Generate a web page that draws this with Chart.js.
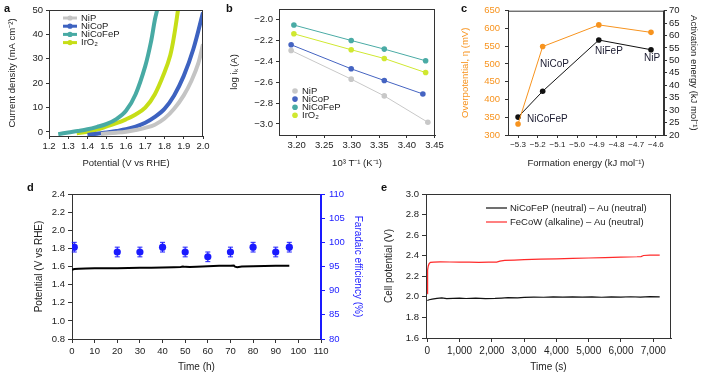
<!DOCTYPE html>
<html>
<head>
<meta charset="utf-8">
<script src="https://cdn.jsdelivr.net/npm/chart.js@4.4.1/dist/chart.umd.min.js"></script>
<style>
  body { margin: 0; background: #fff; width: 704px; height: 377px; position: relative; overflow: hidden; }
  canvas { position: absolute; }
  .tag { position: absolute; font: bold 11px 'Liberation Sans', Arial, sans-serif; color: #111; }
</style>
</head>
<body>
<canvas id="ca" width="228" height="175" style="left:0;top:0"></canvas>
<canvas id="cb" width="232" height="175" style="left:228px;top:0"></canvas>
<canvas id="cc" width="244" height="175" style="left:460px;top:0"></canvas>
<canvas id="cd" width="368" height="199" style="left:0;top:178px"></canvas>
<canvas id="ce" width="342" height="199" style="left:362px;top:178px"></canvas>
<div class="tag" style="left:4px;top:2px">a</div>
<div class="tag" style="left:226px;top:2px">b</div>
<div class="tag" style="left:461px;top:2px">c</div>
<div class="tag" style="left:27px;top:181px">d</div>
<div class="tag" style="left:381px;top:181px">e</div>
<script>
// ---- a: polarisation curves, potential (V vs RHE) / current density (mA cm-2)
const nipV = [1.47, 1.55, 1.60, 1.65, 1.70, 1.75, 1.80, 1.85, 1.90, 1.94, 1.975, 2.0];
const nipJ = [-0.8, -0.3, 0.1, 0.8, 1.7, 3.0, 5.5, 9.5, 15, 21, 28, 36];
const nicopV = [1.40, 1.45, 1.50, 1.55, 1.60, 1.65, 1.70, 1.75, 1.80, 1.85, 1.90, 1.95, 2.0];
const nicopJ = [-1.2, -0.7, -0.2, 0.4, 1.1, 2.2, 3.8, 6.2, 9.5, 15, 23, 34, 49];
const nicofepV = [1.248, 1.30, 1.35, 1.40, 1.45, 1.50, 1.55, 1.60, 1.65, 1.70, 1.73, 1.75, 1.765];
const nicofepJ = [-0.9, -0.2, 0.4, 1.1, 2.1, 3.3, 5.3, 8.7, 15.5, 27, 37, 46, 51];
const iro2V = [1.344, 1.40, 1.45, 1.50, 1.55, 1.60, 1.65, 1.70, 1.75, 1.80, 1.83, 1.85, 1.872];
const iro2J = [-0.5, 0.1, 1.0, 2.3, 3.6, 5.2, 7.2, 10, 15.5, 24.5, 31.5, 39.5, 51];
const aTicksX = [1.2, 1.3, 1.4, 1.5, 1.6, 1.7, 1.8, 1.9, 2.0];
const aTicksY = [0, 10, 20, 30, 40, 50];

// ---- b: Arrhenius plot, 10^3/T (K-1) / log ik (A)
const bNipT = [3.190, 3.299, 3.359, 3.438];
const bNipLog = [-2.295, -2.570, -2.731, -2.984];
const bNicopT = [3.190, 3.299, 3.359, 3.429];
const bNicopLog = [-2.240, -2.471, -2.583, -2.712];
const bNicofepT = [3.195, 3.299, 3.359, 3.434];
const bNicofepLog = [-2.051, -2.199, -2.282, -2.394];
const bIro2T = [3.195, 3.299, 3.359, 3.434];
const bIro2Log = [-2.135, -2.288, -2.372, -2.507];
const bTicksX = [3.20, 3.25, 3.30, 3.35, 3.40, 3.45];
const bTicksY = [-3.0, -2.8, -2.6, -2.4, -2.2, -2.0];

// ---- c: formation energy vs overpotential / activation energy
const cNames = ['NiCoFeP', 'NiCoP', 'NiFeP', 'NiP'];
const cFormation = [-5.3, -5.175, -4.89, -4.625];
const cOverpotential = [331, 549, 610, 589];
const cActivation = [27.2, 37.6, 58.2, 54.3];
const cTicksX = [-5.3, -5.2, -5.1, -5.0, -4.9, -4.8, -4.7, -4.6];
const cTicksY = [300, 350, 400, 450, 500, 550, 600, 650];
const cTicksY2 = [20, 25, 30, 35, 40, 45, 50, 55, 60, 65, 70];

// ---- d: stability, time (h) / potential (V vs RHE) and Faradaic efficiency (%)
const dTime = [0, 1, 3, 6, 10, 15, 20, 25, 30, 35, 40, 45, 48, 49, 50, 52, 55, 60, 65, 70, 71.5, 72, 73, 75, 80, 85, 90, 96];
const dPotential = [1.562, 1.572, 1.576, 1.578, 1.580, 1.581, 1.582, 1.583, 1.585, 1.587, 1.589, 1.592, 1.595, 1.600, 1.596, 1.594, 1.598, 1.604, 1.607, 1.609, 1.611, 1.598, 1.593, 1.600, 1.604, 1.606, 1.607, 1.607];
const dFeTime = [1, 20, 30, 40, 50, 60, 70, 80, 90, 96];
const dFe = [99, 98, 98, 99, 98, 97, 98, 99, 98, 99];
const dFeErr = [1, 1, 1, 1, 1, 1, 1, 1, 1, 1];
const dTicksX = [0, 10, 20, 30, 40, 50, 60, 70, 80, 90, 100, 110];
const dTicksY = [0.8, 1.0, 1.2, 1.4, 1.6, 1.8, 2.0, 2.2, 2.4];
const dTicksY2 = [80, 85, 90, 95, 100, 105, 110];

// ---- e: two-electrode cells, time (s) / cell potential (V)
const eNeutralT = [0, 60, 150, 300, 450, 600, 800, 1000, 1200, 1500, 1800, 2100, 2300, 2500, 2800, 3000, 3300, 3600, 3900, 4200, 4500, 4800, 5100, 5400, 5700, 6000, 6300, 6600, 6900, 7200];
const eNeutralV = [1.965, 1.972, 1.978, 1.986, 1.990, 1.982, 1.986, 1.988, 1.984, 1.987, 1.983, 1.985, 1.988, 1.992, 1.990, 1.995, 1.998, 1.996, 1.999, 1.997, 2.000, 1.997, 1.999, 1.996, 2.000, 1.998, 2.001, 1.998, 2.002, 2.000];
const eAlkT = [0, 5, 15, 30, 60, 100, 200, 400, 700, 1000, 1300, 1600, 1900, 2150, 2250, 2400, 2700, 3000, 3500, 4000, 4500, 5000, 5500, 6000, 6500, 6620, 6700, 6900, 7200];
const eAlkV = [2.03, 2.15, 2.26, 2.30, 2.325, 2.335, 2.338, 2.340, 2.339, 2.338, 2.337, 2.336, 2.337, 2.338, 2.347, 2.355, 2.358, 2.362, 2.366, 2.370, 2.374, 2.378, 2.382, 2.386, 2.390, 2.392, 2.402, 2.405, 2.405];
const eTicksX = [0, 1000, 2000, 3000, 4000, 5000, 6000, 7000];
const eTicksY = [1.6, 1.8, 2.0, 2.2, 2.4, 2.6, 2.8, 3.0];

const SANS = "'Liberation Sans', Arial, sans-serif";
const NARROW = "'Liberation Sans Narrow', 'Arial Narrow', 'Liberation Sans', Arial, sans-serif";
const ORANGE = '#f7931e';
const BLUE = '#1a1aff';

Chart.defaults.font.family = SANS;
Chart.defaults.color = '#222';
Chart.defaults.animation = false;

const xy = (xs, ys) => xs.map((x, i) => ({ x: x, y: ys[i] }));
const minus = s => s.replace('-', '\u2212');

// box round the plot area
const frame = {
  id: 'frame',
  afterDraw(chart, args, o) {
    const { left, right, top, bottom } = chart.chartArea;
    const ctx = chart.ctx;
    const side = (c, x1, y1, x2, y2) => {
      ctx.strokeStyle = c; ctx.beginPath(); ctx.moveTo(x1, y1); ctx.lineTo(x2, y2); ctx.stroke();
    };
    ctx.save();
    ctx.lineWidth = 1;
    side(o.top || '#333', left, top + 0.5, right, top + 0.5);
    side(o.right || '#333', right - 0.5, top, right - 0.5, bottom);
    ctx.restore();
  }
};

// legend drawn inside the plot
const insetLegend = {
  id: 'insetLegend',
  afterDraw(chart, args, o) {
    const ctx = chart.ctx;
    ctx.save();
    ctx.font = o.font;
    ctx.textBaseline = 'middle';
    chart.data.datasets.forEach((ds, i) => {
      if (!ds.label) return;
      const y = o.y + i * o.dy;
      const col = ds.legendColor || ds.borderColor;
      if (o.line) {
        ctx.strokeStyle = col; ctx.lineWidth = o.line;
        ctx.beginPath(); ctx.moveTo(o.x, y); ctx.lineTo(o.x + o.len, y); ctx.stroke();
      }
      if (o.dot) {
        ctx.fillStyle = col;
        ctx.beginPath(); ctx.arc(o.x + o.len / 2, y, o.dot, 0, 2 * Math.PI); ctx.fill();
      }
      ctx.fillStyle = o.color || '#222';
      ctx.fillText(ds.label, o.x + o.len + o.gap, y);
    });
    ctx.restore();
  }
};

// text next to points, placed in data units
const notes = {
  id: 'notes',
  afterDraw(chart, args, o) {
    const ctx = chart.ctx;
    ctx.save();
    ctx.font = o.font; ctx.fillStyle = o.color; ctx.textBaseline = 'middle';
    o.items.forEach(it => {
      ctx.fillText(it.text, chart.scales.x.getPixelForValue(it.x), chart.scales[o.axis].getPixelForValue(it.y));
    });
    ctx.restore();
  }
};

// vertical error bars with caps
const errorBars = {
  id: 'errorBars',
  afterDatasetsDraw(chart, args, o) {
    const ds = chart.data.datasets[o.dataset];
    const xs = chart.scales.x, ys = chart.scales[ds.yAxisID];
    const ctx = chart.ctx;
    ctx.save();
    ctx.strokeStyle = o.color; ctx.lineWidth = 1;
    ds.data.forEach((p, i) => {
      const x = xs.getPixelForValue(p.x);
      const y1 = ys.getPixelForValue(p.y - o.err[i]);
      const y2 = ys.getPixelForValue(p.y + o.err[i]);
      ctx.beginPath();
      ctx.moveTo(x, y1); ctx.lineTo(x, y2);
      ctx.moveTo(x - o.cap, y1); ctx.lineTo(x + o.cap, y1);
      ctx.moveTo(x - o.cap, y2); ctx.lineTo(x + o.cap, y2);
      ctx.stroke();
    });
    ctx.restore();
  }
};

function axis(o) {
  const col = o.color || '#333';
  return {
    type: 'linear',
    position: o.pos,
    min: o.min,
    max: o.max,
    afterFit: s => { if (s.isHorizontal()) s.height = o.size; else s.width = o.size; },
    afterBuildTicks: s => { s.ticks = o.ticks.map(v => ({ value: v })); },
    grid: { drawOnChartArea: false, drawTicks: true, tickLength: o.tickLen || 3, tickColor: col },
    border: { display: true, color: col, width: 1 },
    ticks: {
      color: o.tickColor || o.color || '#222',
      font: o.tickFont,
      padding: o.tickPad == null ? 2 : o.tickPad,
      maxRotation: 0,
      autoSkip: false,
      callback: o.fmt || (v => String(v))
    },
    title: { display: true, text: o.title, color: o.titleColor || o.color || '#222', font: o.titleFont, padding: o.titlePad }
  };
}

const noPlugins = { legend: { display: false }, tooltip: { enabled: false } };

// ---------- a
new Chart(document.getElementById('ca'), {
  type: 'line',
  data: {
    datasets: [
      { label: 'NiP', data: xy(nipV, nipJ), borderColor: '#c4c4c4' },
      { label: 'NiCoP', data: xy(nicopV, nicopJ), borderColor: '#3d62c0' },
      { label: 'NiCoFeP', data: xy(nicofepV, nicofepJ), borderColor: '#48aaa4' },
      { label: 'IrO\u2082', data: xy(iro2V, iro2J), borderColor: '#c6de17' }
    ].map(d => Object.assign(d, { borderWidth: 4, pointRadius: 0, tension: 0.35, clip: 0 }))
  },
  options: {
    responsive: false,
    layout: { padding: { top: 10, right: 25, left: 0, bottom: 0 } },
    scales: {
      x: axis({ pos: 'bottom', min: 1.2, max: 2.0, size: 39, ticks: aTicksX, fmt: v => v.toFixed(1),
        tickFont: { family: NARROW, size: 9.5 }, title: 'Potential (V vs RHE)',
        titleFont: { family: NARROW, size: 9.5 }, titlePad: { top: 0, bottom: 6 } }),
      y: axis({ pos: 'left', min: -1.64, max: 50, size: 49, ticks: aTicksY, tickPad: 3,
        tickFont: { family: NARROW, size: 9.5 }, title: 'Current density (mA cm\u207B\u00B2)',
        titleFont: { family: NARROW, size: 9.5 }, titlePad: { top: 7, bottom: 0 } })
    },
    plugins: Object.assign({}, noPlugins, {
      frame: {},
      insetLegend: { x: 63, y: 18, dy: 8.2, len: 14, gap: 4, line: 3, dot: 2.6, font: '9.5px ' + SANS }
    })
  },
  plugins: [frame, insetLegend]
});

// ---------- b
new Chart(document.getElementById('cb'), {
  type: 'line',
  data: {
    datasets: [
      { label: 'NiP', data: xy(bNipT, bNipLog), borderColor: '#c8c8c8' },
      { label: 'NiCoP', data: xy(bNicopT, bNicopLog), borderColor: '#4564c2' },
      { label: 'NiCoFeP', data: xy(bNicofepT, bNicofepLog), borderColor: '#4aaba5' },
      { label: 'IrO\u2082', data: xy(bIro2T, bIro2Log), borderColor: '#d0e830' }
    ].map(d => Object.assign(d, { borderWidth: 1, pointRadius: 2.8, pointBorderWidth: 0,
      pointBackgroundColor: d.borderColor, tension: 0 }))
  },
  options: {
    responsive: false,
    layout: { padding: { top: 9, right: 25, left: 0, bottom: 0 } },
    scales: {
      x: axis({ pos: 'bottom', min: 3.168, max: 3.451, size: 40, ticks: bTicksX, fmt: v => v.toFixed(2),
        tickFont: { family: NARROW, size: 9.5 }, title: '10\u00B3 T\u207B\u00B9 (K\u207B\u00B9)',
        titleFont: { family: NARROW, size: 9.5 }, titlePad: { top: 0, bottom: 6 } }),
      y: axis({ pos: 'left', min: -3.106, max: -1.897, size: 51, ticks: bTicksY, tickPad: 3,
        fmt: v => minus(v.toFixed(1)),
        tickFont: { family: NARROW, size: 9.5 }, title: 'log i\u2096 (A)',
        titleFont: { family: NARROW, size: 9.5 }, titlePad: { top: 1, bottom: 0 } })
    },
    plugins: Object.assign({}, noPlugins, {
      frame: {},
      insetLegend: { x: 67, y: 91, dy: 8.1, len: 0, gap: 7, dot: 2.8, font: '9.5px ' + SANS }
    })
  },
  plugins: [frame, insetLegend]
});

// ---------- c
new Chart(document.getElementById('cc'), {
  type: 'line',
  data: {
    datasets: [
      { data: xy(cFormation, cOverpotential), yAxisID: 'y', borderColor: ORANGE, pointBackgroundColor: ORANGE },
      { data: xy(cFormation, cActivation), yAxisID: 'y2', borderColor: '#111', pointBackgroundColor: '#111' }
    ].map(d => Object.assign(d, { borderWidth: 1, pointRadius: 2.8, pointBorderWidth: 0, tension: 0 }))
  },
  options: {
    responsive: false,
    layout: { padding: { top: 10, right: 0, left: 0, bottom: 0 } },
    scales: {
      x: axis({ pos: 'bottom', min: -5.351, max: -4.559, size: 40, ticks: cTicksX, fmt: v => minus(v.toFixed(1)),
        tickFont: { family: NARROW, size: 8 }, title: 'Formation energy (kJ mol\u207B\u00B9)',
        titleFont: { family: NARROW, size: 9.5 }, titlePad: { top: 0, bottom: 6 } }),
      y: axis({ pos: 'left', min: 300, max: 650, size: 48, ticks: cTicksY, tickPad: 5,
        tickColor: ORANGE, titleColor: ORANGE,
        tickFont: { family: NARROW, size: 9.5 }, title: 'Overpotential, \u03B7 (mV)',
        titleFont: { family: NARROW, size: 9.5 }, titlePad: { top: 0, bottom: 0 } }),
      y2: axis({ pos: 'right', min: 20, max: 70, size: 40, ticks: cTicksY2, tickPad: 2,
        tickFont: { family: NARROW, size: 9.5 }, title: 'Activation energy (kJ mol\u207B\u00B9)',
        titleFont: { family: NARROW, size: 9.5 }, titlePad: { top: 5, bottom: 0 } })
    },
    plugins: Object.assign({}, noPlugins, {
      frame: {},
      notes: { axis: 'y2', font: '10px ' + SANS, color: '#1b1b30', items: [
        { text: cNames[0], x: -5.254, y: 26.4 },
        { text: cNames[1], x: -5.188, y: 48.4 },
        { text: cNames[2], x: -4.909, y: 53.6 },
        { text: cNames[3], x: -4.66, y: 50.8 }
      ] }
    })
  },
  plugins: [frame, notes]
});

// ---------- d
new Chart(document.getElementById('cd'), {
  type: 'line',
  data: {
    datasets: [
      { data: xy(dTime, dPotential), yAxisID: 'y', borderColor: '#000', borderWidth: 2, pointRadius: 0, tension: 0 },
      { data: xy(dFeTime, dFe), yAxisID: 'y2', showLine: false, pointRadius: 3.6, pointBorderWidth: 0,
        pointBackgroundColor: BLUE, borderColor: BLUE }
    ]
  },
  options: {
    responsive: false,
    layout: { padding: { top: 16, right: 0, left: 0, bottom: 0 } },
    scales: {
      x: axis({ pos: 'bottom', min: 0, max: 110, size: 38, ticks: dTicksX, tickLen: 4, tickPad: 3,
        tickFont: { size: 9.5 }, title: 'Time (h)', titleFont: { size: 10 }, titlePad: { top: 0, bottom: 4 } }),
      y: axis({ pos: 'left', min: 0.8, max: 2.4, size: 72, ticks: dTicksY, tickLen: 4, tickPad: 3,
        fmt: v => v.toFixed(1),
        tickFont: { size: 9.5 }, title: 'Potential (V vs RHE)', titleFont: { size: 10 }, titlePad: { top: 33, bottom: 0 } }),
      y2: axis({ pos: 'right', min: 80, max: 110, size: 47, ticks: dTicksY2, tickLen: 4, tickPad: 4,
        color: BLUE, tickFont: { size: 9.5 }, title: 'Faradaic efficiency (%)', titleFont: { size: 10 },
        titlePad: { top: 4, bottom: 0 } })
    },
    plugins: Object.assign({}, noPlugins, {
      frame: { right: BLUE },
      errorBars: { dataset: 1, err: dFeErr, cap: 2.5, color: BLUE }
    })
  },
  plugins: [frame, errorBars]
});

// ---------- e
new Chart(document.getElementById('ce'), {
  type: 'line',
  data: {
    datasets: [
      { label: 'NiCoFeP (neutral) \u2013 Au (neutral)', data: xy(eNeutralT, eNeutralV), borderColor: '#111' },
      { label: 'FeCoW (alkaline) \u2013 Au (neutral)', data: xy(eAlkT, eAlkV), borderColor: '#ff2a2a' }
    ].map(d => Object.assign(d, { borderWidth: 1.2, pointRadius: 0, tension: 0 }))
  },
  options: {
    responsive: false,
    layout: { padding: { top: 16, right: 33, left: 0, bottom: 0 } },
    scales: {
      x: axis({ pos: 'bottom', min: -40, max: 7550, size: 39, ticks: eTicksX, tickLen: 4, tickPad: 3,
        fmt: v => v.toLocaleString('en-US'),
        tickFont: { family: NARROW, size: 10 }, title: 'Time (s)', titleFont: { size: 10 }, titlePad: { top: 0, bottom: 4 } }),
      y: axis({ pos: 'left', min: 1.6, max: 3.0, size: 64, ticks: eTicksY, tickLen: 4, tickPad: 3,
        fmt: v => v.toFixed(1),
        tickFont: { size: 9.5 }, title: 'Cell potential (V)', titleFont: { size: 10 }, titlePad: { top: 21, bottom: 0 } })
    },
    plugins: Object.assign({}, noPlugins, {
      frame: {},
      insetLegend: { x: 124, y: 30, dy: 14, len: 21, gap: 3, line: 1.2, font: '9.5px ' + SANS }
    })
  },
  plugins: [frame, insetLegend]
});
</script>
</body>
</html>
